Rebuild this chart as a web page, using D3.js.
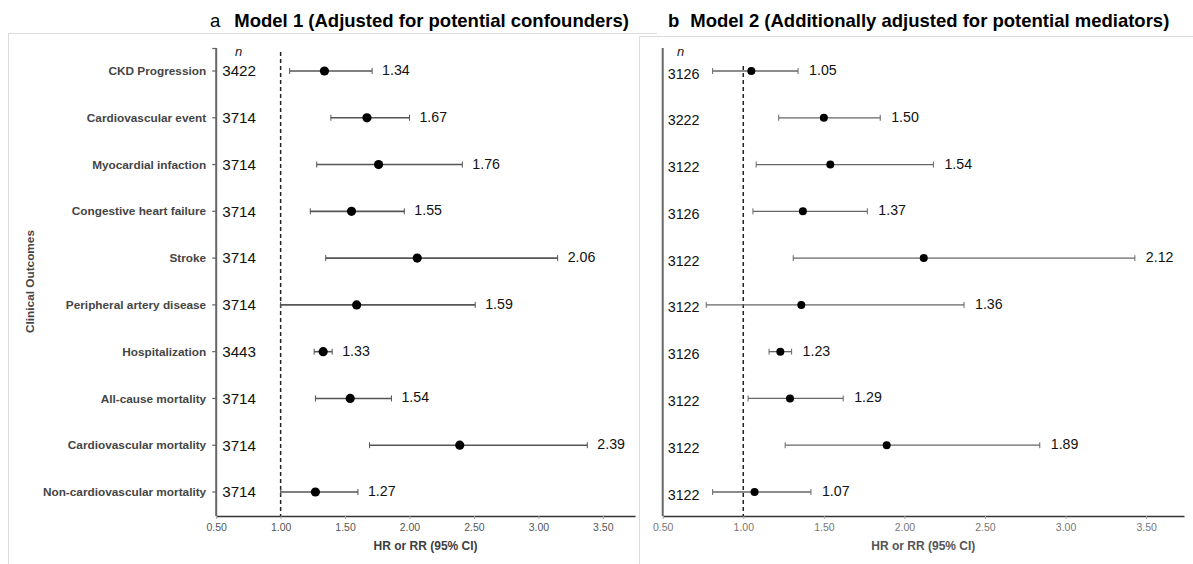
<!DOCTYPE html>
<html>
<head>
<meta charset="utf-8">
<script src="https://cdn.jsdelivr.net/npm/d3@7"></script>
<style>
  html, body { margin: 0; padding: 0; background: #fff; }
  svg { display: block; }
  text { font-family: "Liberation Sans", Arial, sans-serif; }
</style>
</head>
<body>
<svg id="chart" width="1193" height="564"></svg>
<script>
// ---- data ----
const outcomes = ["CKD Progression", "Cardiovascular event", "Myocardial infaction",
  "Congestive heart failure", "Stroke", "Peripheral artery disease", "Hospitalization",
  "All-cause mortality", "Cardiovascular mortality", "Non-cardiovascular mortality"];

const nA  = [3422, 3714, 3714, 3714, 3714, 3714, 3443, 3714, 3714, 3714];
const hrA = [1.34, 1.67, 1.76, 1.55, 2.06, 1.59, 1.33, 1.54, 2.39, 1.27];
const loA = [1.07, 1.39, 1.28, 1.23, 1.35, 1.00, 1.26, 1.27, 1.69, 1.00];
const hiA = [1.71, 2.00, 2.41, 1.96, 3.15, 2.51, 1.40, 1.86, 3.38, 1.60];

const nB  = [3126, 3222, 3122, 3126, 3122, 3122, 3126, 3122, 3122, 3122];
const hrB = [1.05, 1.50, 1.54, 1.37, 2.12, 1.36, 1.23, 1.29, 1.89, 1.07];
const loB = [0.81, 1.22, 1.08, 1.06, 1.31, 0.77, 1.16, 1.03, 1.26, 0.81];
const hiB = [1.34, 1.85, 2.18, 1.77, 3.43, 2.37, 1.30, 1.62, 2.84, 1.42];

const xTicks = [0.5, 1.0, 1.5, 2.0, 2.5, 3.0, 3.5];
const titleA = ["a", "Model 1 (Adjusted for potential confounders)"];
const titleB = ["b", "Model 2 (Additionally adjusted for potential mediators)"];
const xTitle = "HR or RR (95% CI)";
const yTitle = "Clinical Outcomes";

// ---- layout ----
const svg = d3.select("#chart");
const y = d3.scalePoint().domain(outcomes).range([71, 492]);
const axisY = 516;

// panel frames
svg.append("path").attr("d", "M8.5,564 V33.5 H657").attr("fill", "none").attr("stroke", "#dcdcdc").attr("stroke-width", 1);
svg.append("path").attr("d", "M639.5,564 V36.5 H1193").attr("fill", "none").attr("stroke", "#dcdcdc").attr("stroke-width", 1);

function panel(cfg) {
  const g = svg.append("g");
  const x = d3.scaleLinear().domain(cfg.domain).range(cfg.range);
  const rows = outcomes.map((o, i) => ({o, n: cfg.n[i], hr: cfg.hr[i], lo: cfg.lo[i], hi: cfg.hi[i]}));

  // x axis
  const ax = g.append("g").attr("transform", `translate(0,${axisY})`)
    .call(d3.axisBottom(x).tickValues(xTicks).tickFormat(d3.format(".2f")).tickSize(3).tickSizeOuter(0));
  ax.select(".domain").attr("stroke", "#333").attr("stroke-width", 1.6);
  ax.selectAll(".tick line").attr("stroke", "#aaa");
  ax.selectAll(".tick text").attr("fill", cfg.tickColor)
    .attr("dy", "0.9em").attr("font-family", "'Liberation Sans Narrow', 'Liberation Sans', Arial, sans-serif")
    .attr("font-size", 10.5);

  // y axis line
  const x0 = cfg.range[0];
  g.append("line").attr("x1", x0).attr("x2", x0).attr("y1", cfg.yTop).attr("y2", axisY)
    .attr("stroke", "#666").attr("stroke-width", 2);
  if (cfg.rowTicks) {
    g.append("line").attr("x1", x0 - 4).attr("x2", x0).attr("y1", cfg.yTop + 0.5).attr("y2", cfg.yTop + 0.5)
      .attr("stroke", "#666").attr("stroke-width", 1.2);
    g.selectAll(".rt").data(rows).join("line")
      .attr("x1", x0 - 4).attr("x2", x0).attr("y1", d => y(d.o)).attr("y2", d => y(d.o))
      .attr("stroke", "#666").attr("stroke-width", 1.2);
  }

  // reference line at 1
  g.append("line").attr("x1", x(1)).attr("x2", x(1)).attr("y1", cfg.refTop).attr("y2", axisY)
    .attr("stroke", "#222").attr("stroke-width", 1.5).attr("stroke-dasharray", "4,3");

  // category labels
  if (cfg.labels) {
    g.selectAll(".cat").data(rows).join("text")
      .attr("x", x0 - 10).attr("y", d => y(d.o)).attr("dy", "0.35em")
      .attr("text-anchor", "end").attr("font-weight", "bold").attr("font-size", 11.8)
      .attr("fill", "#454545").text(d => d.o);
    g.append("text").attr("transform", `translate(30,${(y.range()[0] + y.range()[1]) / 2}) rotate(-90)`)
      .attr("text-anchor", "middle").attr("dy", "0.35em").attr("font-weight", "bold")
      .attr("font-size", 11.8).attr("fill", "#454545").text(yTitle);
  }

  // n header and values
  g.append("text").attr("x", cfg.nHeadX).attr("y", 51).attr("dy", "0.35em")
    .attr("font-style", "italic").attr("font-size", 13).attr("fill", "#222").text("n");
  g.selectAll(".nv").data(rows).join("text")
    .attr("x", x0 + cfg.nOff).attr("y", d => y(d.o) + cfg.nDy).attr("dy", "0.35em")
    .attr("font-size", cfg.nSize).attr("fill", "#111").text(d => d.n);

  // error bars
  g.selectAll(".ci").data(rows).join("line")
    .attr("x1", d => x(d.lo)).attr("x2", d => x(d.hi)).attr("y1", d => y(d.o)).attr("y2", d => y(d.o))
    .attr("stroke", cfg.barColor).attr("stroke-width", cfg.barW);
  ["lo", "hi"].forEach(k => {
    g.selectAll(".cap" + k).data(rows).join("line")
      .attr("x1", d => x(d[k])).attr("x2", d => x(d[k]))
      .attr("y1", d => y(d.o) - cfg.cap).attr("y2", d => y(d.o) + cfg.cap)
      .attr("stroke", cfg.barColor).attr("stroke-width", 1);
  });
  g.selectAll(".pt").data(rows).join("circle")
    .attr("cx", d => x(d.hr)).attr("cy", d => y(d.o)).attr("r", cfg.r).attr("fill", "#000");

  // value labels
  g.selectAll(".val").data(rows).join("text")
    .attr("x", d => x(d.hi) + cfg.valOff).attr("y", d => y(d.o) - 1).attr("dy", "0.35em")
    .attr("font-size", 14.2).attr("fill", "#111").text(d => d3.format(".2f")(d.hr));

  // x axis title
  g.append("text").attr("x", (cfg.range[0] + cfg.range[1]) / 2).attr("y", 546).attr("dy", "0.35em")
    .attr("text-anchor", "middle").attr("font-weight", "bold").attr("font-size", 12)
    .attr("fill", cfg.titleColor).text(xTitle);

  // panel title
  const t = svg.append("text").attr("x", cfg.titleX).attr("y", 21).attr("dy", "0.35em")
    .attr("font-size", 18.5).attr("fill", "#000");
  t.append("tspan").attr("font-weight", cfg.letterBold ? "bold" : "normal").text(cfg.title[0]);
  t.append("tspan").attr("dx", cfg.titleGap).attr("font-weight", "bold").text(cfg.title[1]);
}

panel({
  domain: [0.5, 3.75], range: [216.2, 635], n: nA, hr: hrA, lo: loA, hi: hiA,
  yTop: 48, refTop: 52, rowTicks: true, labels: true, nHeadX: 235, nOff: 6, nDy: 0, nSize: 15.2,
  barColor: "#555", barW: 1.6, cap: 3, r: 4.6, valOff: 10, tickColor: "#555", titleColor: "#404040",
  title: titleA, titleX: 210, titleGap: 14, letterBold: false
});

panel({
  domain: [0.5, 3.735], range: [662.7, 1184], n: nB, hr: hrB, lo: loB, hi: hiB,
  yTop: 48, refTop: 66, rowTicks: false, labels: false, nHeadX: 677, nOff: 5, nDy: 2.5, nSize: 14.3,
  barColor: "#666", barW: 1.3, cap: 3, r: 4, valOff: 11, tickColor: "#777", titleColor: "#555",
  title: titleB, titleX: 668, titleGap: 11, letterBold: true
});
</script>
</body>
</html>
